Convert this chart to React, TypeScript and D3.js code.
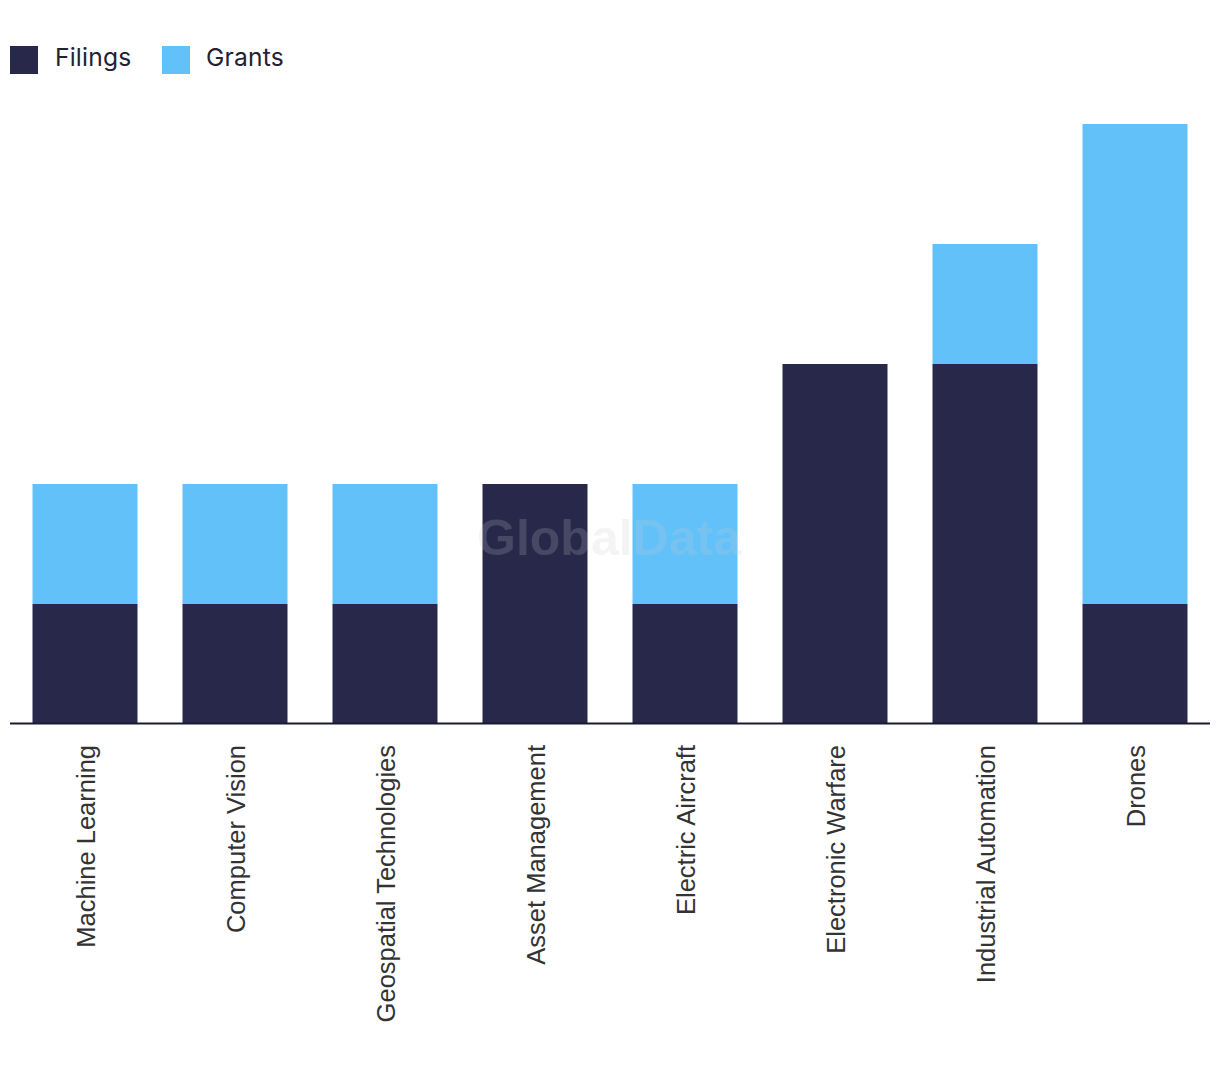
import React, { useEffect } from "react";
import * as d3 from "d3";

const categories = [
  "Machine Learning",
  "Computer Vision",
  "Geospatial Technologies",
  "Asset Management",
  "Electric Aircraft",
  "Electronic Warfare",
  "Industrial Automation",
  "Drones",
];
const filings = [1, 1, 1, 2, 1, 3, 3, 1];
const grants = [1, 1, 1, 0, 1, 0, 1, 4];
const seriesNames = ["Filings", "Grants"];
const seriesColors = ["#27284a", "#62c1f9"];

const W = 1220;
const H = 1072;

export default function App() {
  useEffect(() => {
    document.body.style.margin = "0";
  }, []);

  const x = d3.scaleBand<string>().domain(categories).range([10, 1210]).paddingInner(0.3).paddingOuter(0.15);
  const y = d3.scaleLinear().domain([0, 5]).range([724, 124]);

  const rows = categories.map((c, i) => ({ cat: c, Filings: filings[i], Grants: grants[i] }));
  const stacked = d3.stack<any>().keys(seriesNames)(rows);

  return (
    <svg width={W} height={H} style={{ display: "block" }}>
      <rect width={W} height={H} fill="#fff" />
      {/* legend */}
      <g>
        <rect x={10} y={46} width={28} height={28} fill={seriesColors[0]} />
        <text x={55} y={66} fontFamily="Inter, 'Noto Sans', sans-serif" fontSize={24.6} fill="#222233" letterSpacing={0.2}>Filings</text>
        <rect x={162} y={46} width={28} height={28} fill={seriesColors[1]} />
        <text x={206} y={66} fontFamily="Inter, 'Noto Sans', sans-serif" fontSize={24.6} fill="#222233" letterSpacing={0.2}>Grants</text>
      </g>
      {/* bars */}
      {stacked.map((s, si) => (
        <g key={s.key} fill={seriesColors[si]}>
          {s.map((d, i) =>
            d[1] - d[0] > 0 ? (
              <rect
                key={i}
                x={x(categories[i])}
                y={y(d[1])}
                width={x.bandwidth()}
                height={y(d[0]) - y(d[1])}
              />
            ) : null
          )}
        </g>
      ))}
      {/* watermark */}
      <text
        x={609}
        y={555}
        textAnchor="middle"
        fontFamily="'Liberation Sans', Arial, sans-serif"
        fontWeight="bold"
        fontSize={50}
        fill="rgb(200,200,206)"
        fillOpacity={0.2}
      >
        GlobalData
      </text>
      {/* axis line */}
      <line x1={10} x2={1210} y1={723.5} y2={723.5} stroke="#1a1a2e" strokeWidth={2} />
      {/* category labels */}
      {categories.map((c) => {
        const cx = (x(c) as number) + x.bandwidth() / 2;
        return (
          <text
            key={c}
            transform={`translate(${cx + 1},745) rotate(-90)`}
            textAnchor="end"
            dy="0.35em"
            fontFamily="'Liberation Sans', Arial, sans-serif"
            fontSize={25.5}
            fill="#333"
          >
            {c}
          </text>
        );
      })}
    </svg>
  );
}
